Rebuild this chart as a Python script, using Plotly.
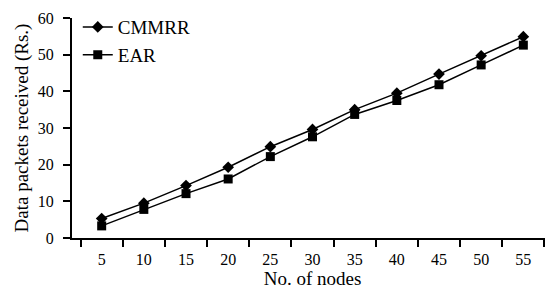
import plotly.graph_objects as go

nodes = ["5", "10", "15", "20", "25", "30", "35", "40", "45", "50", "55"]
cmmrr = [5.3, 9.5, 14.3, 19.3, 24.9, 29.6, 35.0, 39.5, 44.7, 49.7, 54.9]
ear = [3.3, 7.8, 12.1, 16.1, 22.2, 27.6, 33.7, 37.5, 41.8, 47.2, 52.6]

fam = "Liberation Serif"
tickfont = dict(family=fam, size=16, color="black")
titlefont = dict(family=fam, size=19, color="black")

fig = go.Figure()
fig.add_trace(go.Scatter(x=nodes, y=cmmrr, name="CMMRR", mode="lines+markers",
                         line=dict(color="black", width=1.5),
                         marker=dict(symbol="diamond", size=9, color="black")))
fig.add_trace(go.Scatter(x=nodes, y=ear, name="EAR", mode="lines+markers",
                         line=dict(color="black", width=1.5),
                         marker=dict(symbol="square", size=9, color="black")))

# page body has an 8px margin, so the figure is 8px smaller than the window
fig.update_layout(
    width=545, height=282,
    margin=dict(l=64, r=0, t=8, b=52),
    paper_bgcolor="white", plot_bgcolor="white",
    font=dict(family=fam, size=16, color="black"),
    showlegend=True,
    legend=dict(x=0.012, y=1.045, xanchor="left", yanchor="top",
                bgcolor="rgba(0,0,0,0)", itemwidth=30, tracegroupgap=0,
                font=dict(family=fam, size=19, color="black")),
    xaxis=dict(type="category", tickson="boundaries", ticks="outside", ticklen=7,
               tickwidth=2, tickcolor="black", showline=True, linecolor="black",
               linewidth=2, showgrid=False, zeroline=False, automargin=False,
               ticklabelstandoff=6,
               title=dict(text="No. of nodes", standoff=2, font=titlefont), tickfont=tickfont),
    yaxis=dict(range=[0, 60], dtick=10, ticks="outside", ticklen=7, tickwidth=2,
               tickcolor="black", showline=True, linecolor="black", linewidth=2,
               showgrid=False, zeroline=False, automargin=False,
               ticklabelstandoff=6,
               title=dict(text="Data packets received (Rs.)", standoff=4, font=titlefont),
               tickfont=tickfont),
)

fig.write_html("out.html")
